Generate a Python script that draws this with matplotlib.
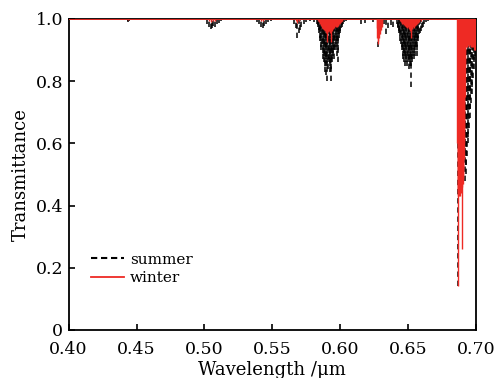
import matplotlib
matplotlib.use("Agg")
import matplotlib.pyplot as plt
from matplotlib.lines import Line2D

# absorption line centres (um) and line-core transmittance
summer_wl = [0.4435, 0.4440, 0.4445, 0.4710, 0.4870,
             0.5020, 0.5035, 0.5045, 0.5055, 0.5065, 0.5075, 0.5090, 0.5105, 0.5120,
             0.5260,
             0.5390, 0.5405, 0.5420, 0.5430, 0.5440, 0.5455, 0.5470, 0.5490,
             0.5660, 0.5675, 0.5685, 0.5695, 0.5705, 0.5715, 0.5730, 0.5750, 0.5780, 0.5810,
             0.5830, 0.5834, 0.5838, 0.5842, 0.5846, 0.5850, 0.5854, 0.5858, 0.5862, 0.5866,
             0.5870, 0.5874, 0.5878, 0.5882, 0.5886, 0.5890, 0.5894, 0.5898, 0.5902, 0.5906,
             0.5910, 0.5914, 0.5918, 0.5922, 0.5926, 0.5930, 0.5934, 0.5938, 0.5942, 0.5946,
             0.5950, 0.5954, 0.5958, 0.5962, 0.5966, 0.5970, 0.5974, 0.5978, 0.5982, 0.5986,
             0.5990, 0.5994, 0.5998, 0.6002, 0.6006, 0.6010, 0.6016, 0.6022, 0.6030, 0.6040,
             0.6150, 0.6180, 0.6240,
             0.6275, 0.6280, 0.6285, 0.6290, 0.6295, 0.6300, 0.6310, 0.6320,
             0.6335, 0.6355, 0.6375, 0.6390,
             0.6420, 0.6424, 0.6428, 0.6432, 0.6436, 0.6440, 0.6444, 0.6448, 0.6452, 0.6456,
             0.6460, 0.6464, 0.6468, 0.6472, 0.6476, 0.6480, 0.6484, 0.6488, 0.6492, 0.6496,
             0.6500, 0.6504, 0.6508, 0.6512, 0.6516, 0.6520, 0.6524, 0.6528, 0.6532, 0.6536,
             0.6540, 0.6544, 0.6548, 0.6552, 0.6556, 0.6560, 0.6564, 0.6568, 0.6572, 0.6576,
             0.6582, 0.6588, 0.6594, 0.6600, 0.6610, 0.6620, 0.6630, 0.6645, 0.6670, 0.6720,
             0.6866, 0.6874, 0.6882, 0.6890, 0.6898, 0.6906, 0.6912,
             0.6918, 0.6923, 0.6928, 0.6933, 0.6938, 0.6943, 0.6948, 0.6953, 0.6958, 0.6963,
             0.6968, 0.6973, 0.6978, 0.6983, 0.6988, 0.6993, 0.6998]
summer_T = [0.992, 0.990, 0.993, 0.996, 0.996,
            0.985, 0.975, 0.968, 0.972, 0.978, 0.975, 0.982, 0.988, 0.992,
            0.995,
            0.990, 0.982, 0.975, 0.970, 0.978, 0.985, 0.990, 0.994,
            0.985, 0.970, 0.940, 0.955, 0.965, 0.975, 0.985, 0.990, 0.992, 0.990,
            0.985, 0.980, 0.975, 0.965, 0.955, 0.940, 0.930, 0.910, 0.900, 0.920,
            0.890, 0.870, 0.880, 0.860, 0.850, 0.830, 0.870, 0.820, 0.800, 0.850,
            0.840, 0.870, 0.860, 0.830, 0.850, 0.800, 0.840, 0.870, 0.860, 0.890,
            0.880, 0.900, 0.870, 0.910, 0.920, 0.900, 0.930, 0.880, 0.860, 0.900,
            0.940, 0.950, 0.955, 0.960, 0.970, 0.975, 0.980, 0.985, 0.990, 0.993,
            0.985, 0.988, 0.990,
            0.960, 0.910, 0.940, 0.950, 0.960, 0.965, 0.975, 0.985,
            0.950, 0.970, 0.980, 0.975,
            0.985, 0.975, 0.970, 0.960, 0.955, 0.945, 0.930, 0.920, 0.900, 0.910,
            0.880, 0.870, 0.890, 0.860, 0.880, 0.850, 0.870, 0.860, 0.850, 0.880,
            0.860, 0.840, 0.870, 0.850, 0.860, 0.780, 0.850, 0.870, 0.860, 0.880,
            0.870, 0.890, 0.900, 0.880, 0.910, 0.920, 0.900, 0.880, 0.930, 0.940,
            0.950, 0.955, 0.960, 0.970, 0.975, 0.985, 0.990, 0.993, 0.995, 0.995,
            0.140, 0.430, 0.440, 0.460, 0.470, 0.500, 0.600,
            0.480, 0.500, 0.530, 0.560, 0.600, 0.620, 0.650, 0.680, 0.710, 0.730,
            0.760, 0.780, 0.810, 0.840, 0.860, 0.880, 0.900]

winter_wl = [0.4440,
             0.5035, 0.5045, 0.5060, 0.5075,
             0.5420, 0.5430,
             0.5675, 0.5685, 0.5695,
             0.5840, 0.5844, 0.5848, 0.5852, 0.5856, 0.5860, 0.5864, 0.5868, 0.5872, 0.5876,
             0.5880, 0.5884, 0.5888, 0.5892, 0.5896, 0.5900, 0.5904, 0.5908, 0.5912, 0.5916,
             0.5920, 0.5924, 0.5928, 0.5932, 0.5936, 0.5940, 0.5944, 0.5948, 0.5952, 0.5956,
             0.5960, 0.5964, 0.5968, 0.5972, 0.5976, 0.5980, 0.5984, 0.5988, 0.5992, 0.5996,
             0.6000, 0.6005, 0.6010, 0.6016,
             0.6268, 0.6272, 0.6276, 0.6280, 0.6284, 0.6288, 0.6292, 0.6296, 0.6300, 0.6305, 0.6310,
             0.6440, 0.6446, 0.6452, 0.6458, 0.6464, 0.6470, 0.6476, 0.6482, 0.6488, 0.6494,
             0.6500, 0.6504, 0.6508, 0.6512, 0.6516, 0.6520, 0.6524, 0.6528, 0.6532, 0.6538,
             0.6544, 0.6550, 0.6556, 0.6562, 0.6570, 0.6580, 0.6595,
             0.6862, 0.6864, 0.6866, 0.6868, 0.6870, 0.6872, 0.6874, 0.6876, 0.6878, 0.6880,
             0.6882, 0.6884, 0.6886, 0.6888, 0.6890, 0.6892, 0.6894, 0.6896, 0.6898, 0.6900,
             0.6902, 0.6904, 0.6906, 0.6908, 0.6910, 0.6912, 0.6914, 0.6916, 0.6918, 0.6921,
             0.6924, 0.6928, 0.6932, 0.6936, 0.6940, 0.6944, 0.6948, 0.6952, 0.6956, 0.6960,
             0.6964, 0.6968, 0.6972, 0.6976, 0.6980, 0.6984, 0.6988, 0.6992, 0.6996, 0.7000]
winter_T = [0.997,
            0.992, 0.990, 0.992, 0.992,
            0.993, 0.992,
            0.992, 0.988, 0.992,
            0.993, 0.990, 0.987, 0.984, 0.980, 0.976, 0.980, 0.972, 0.968, 0.972,
            0.964, 0.968, 0.960, 0.964, 0.955, 0.960, 0.925, 0.962, 0.958, 0.966,
            0.962, 0.955, 0.962, 0.925, 0.962, 0.966, 0.970, 0.968, 0.974, 0.970,
            0.976, 0.978, 0.974, 0.980, 0.978, 0.974, 0.978, 0.982, 0.984, 0.986,
            0.988, 0.990, 0.992, 0.994,
            0.970, 0.940, 0.930, 0.920, 0.940, 0.950, 0.950, 0.960, 0.965, 0.975, 0.985,
            0.993, 0.990, 0.986, 0.984, 0.982, 0.980, 0.978, 0.976, 0.974, 0.972,
            0.974, 0.970, 0.968, 0.966, 0.962, 0.940, 0.962, 0.968, 0.970, 0.974,
            0.972, 0.976, 0.980, 0.982, 0.986, 0.990, 0.993,
            0.600, 0.450, 0.140, 0.430, 0.440, 0.460, 0.430, 0.450, 0.440, 0.460,
            0.430, 0.450, 0.470, 0.440, 0.460, 0.450, 0.260, 0.470, 0.460, 0.480,
            0.470, 0.500, 0.490, 0.520, 0.550, 0.600, 0.650, 0.750, 0.850, 0.900,
            0.910, 0.920, 0.910, 0.920, 0.915, 0.920, 0.910, 0.920, 0.915, 0.910,
            0.920, 0.915, 0.910, 0.920, 0.910, 0.915, 0.900, 0.910, 0.900, 0.900]

continuum = 1.0
x_ticks = [0.40, 0.45, 0.50, 0.55, 0.60, 0.65, 0.70]
y_ticks = [0, 0.2, 0.4, 0.6, 0.8, 1.0]
y_ticklabels = ["0", "0.2", "0.4", "0.6", "0.8", "1.0"]

red = "#ee2a24"
plt.rcParams["font.family"] = ["DejaVu Serif"]

fig = plt.figure(figsize=(4.95, 3.78), dpi=100)
ax = fig.add_axes([0.1386, 0.127, 0.823, 0.823])

ax.vlines(summer_wl, summer_T, continuum, colors="black", linewidth=1.1,
          linestyles=(0, (3.5, 2.5)), zorder=2)
ax.vlines(winter_wl, winter_T, continuum, colors=red, linewidth=1.0, zorder=3)
ax.axhline(continuum, color=red, linewidth=1.3, zorder=3)

ax.set_xlim(0.40, 0.70)
ax.set_ylim(0, 1.0)
ax.set_xticks(x_ticks)
ax.set_xticklabels([f"{v:.2f}" for v in x_ticks])
ax.set_yticks(y_ticks)
ax.set_yticklabels(y_ticklabels)
ax.tick_params(direction="in", length=4, width=1.2, labelsize=12.5)
ax.tick_params(axis="x", pad=8)
ax.tick_params(axis="y", pad=4)
for s in ax.spines.values():
    s.set_linewidth(1.3)

ax.set_xlabel("Wavelength /\u03bcm", fontsize=13, labelpad=2)
ax.set_ylabel("Transmittance", fontsize=13, labelpad=4)

handles = [Line2D([], [], color="black", linewidth=1.5, linestyle=(0, (3, 1.8))),
           Line2D([], [], color=red, linewidth=1.3)]
ax.legend(handles, ["summer", "winter"], loc="lower left",
          bbox_to_anchor=(0.02, 0.10), frameon=False, fontsize=11,
          handlelength=2.2, handletextpad=0.4, labelspacing=0.3)

fig.savefig("out.png", dpi=100)
